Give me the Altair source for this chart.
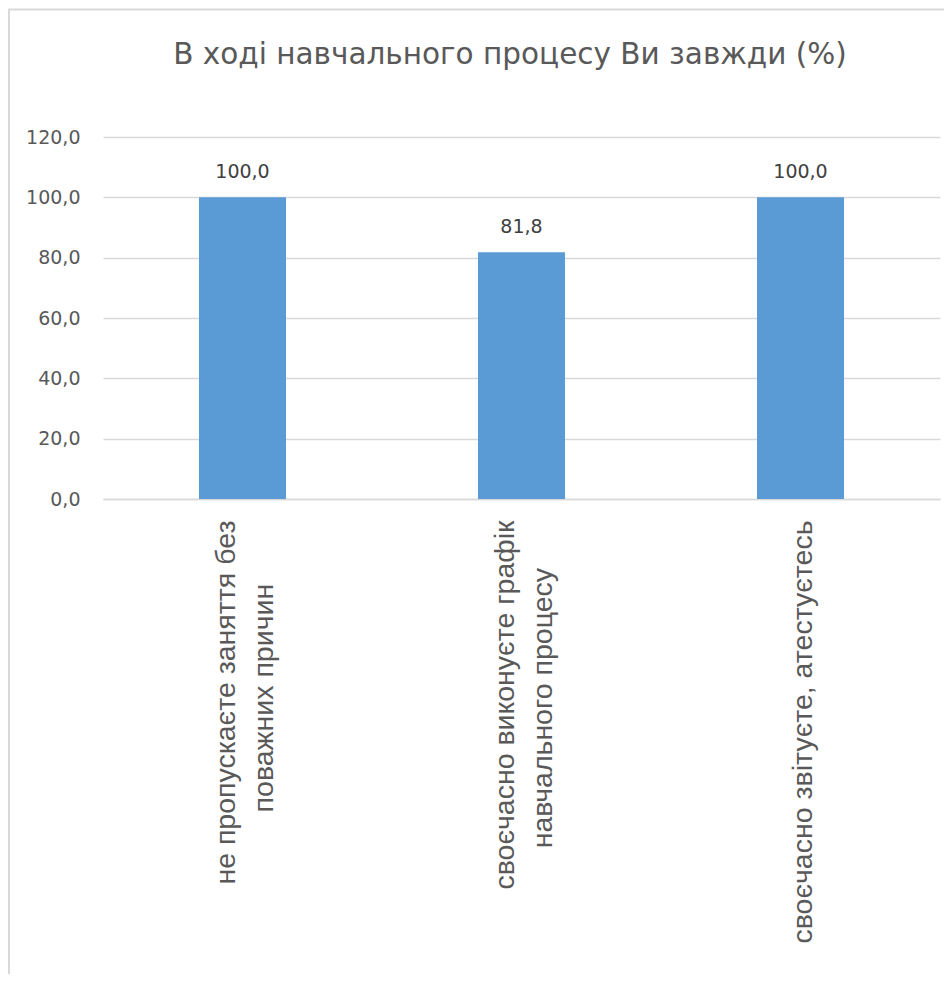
import altair as alt
import pandas as pd

title_text = "В ході навчального процесу Ви завжди (%)"
cat_lines = [
    ["не пропускаєте заняття без", "поважних причин"],
    ["своєчасно виконуєте графік", "навчального процесу"],
    ["своєчасно звітуєте, атестуєтесь"],
]
values = [100.0, 81.8, 100.0]
y_ticks = [0, 20, 40, 60, 80, 100, 120]

# layout helpers for the rotated two-line labels (not data):
# a shorter second line is centred under the first, as in the source
NBSP = "\u00a0"
WJ = "\u2060"  # zero-width word joiner keeps the padding from being trimmed
pad_counts = [8, 6, 0]
keys = [" ".join(l) for l in cat_lines]
label_map = {}
for k, lines, p in zip(keys, cat_lines, pad_counts):
    if len(lines) == 2:
        out = [lines[0], WJ, lines[1] + NBSP * p + WJ]
    else:
        out = [WJ, lines[0]]
    label_map[k] = out

df = pd.DataFrame({"cat": keys, "v": values})

W, H = 837, 362
PAD = {"left": 95, "top": 129, "right": 4, "bottom": 475}

label_expr = "{" + ",".join(
    '"%s": [%s]' % (k, ",".join('"%s"' % s for s in v)) for k, v in label_map.items()
) + "}[datum.label]"

x = alt.X(
    "cat:N",
    sort=None,
    scale=alt.Scale(paddingInner=0.688, paddingOuter=0.344),
    axis=alt.Axis(
        title=None,
        labelAngle=-90,
        labelAlign="right",
        labelBaseline="middle",
        labelFont="Liberation Sans",
        labelFontSize=28.5,
        labelColor="#595959",
        labelLineHeight=19,
        labelOffset=-17,
        labelPadding=21,
        labelLimit=0,
        ticks=False,
        domainColor="#d9d9d9",
        domainWidth=1.5,
        labelExpr=label_expr,
    ),
)
y = alt.Y(
    "v:Q",
    scale=alt.Scale(domain=[0, 120], nice=False),
    axis=alt.Axis(
        title=None,
        values=y_ticks,
        labelExpr="replace(format(datum.value, '.1f'), '.', ',')",
        labelFont="DejaVu Sans",
        labelFontSize=19,
        labelColor="#595959",
        labelPadding=23,
        ticks=False,
        domain=False,
        gridColor="#d9d9d9",
        gridWidth=1.3,
    ),
)

base = alt.Chart(df)
bars = base.mark_bar(color="#5B9BD5").encode(x=x, y=y)
labels = base.mark_text(
    font="DejaVu Sans", fontSize=19, color="#404040", baseline="alphabetic", dy=-19
).transform_calculate(
    lab="replace(format(datum.v, '.1f'), '.', ',')"
).encode(x=x, y=y, text="lab:N")

one = pd.DataFrame({"a": [0]})
frame = alt.Chart(one).mark_rect(
    filled=False, stroke="#d9d9d9", strokeWidth=2
).encode(
    x=alt.value(-94), x2=alt.value(W + 40), y=alt.value(-127.5), y2=alt.value(H + 520)
)

title = alt.Chart(one).mark_text(
    font="DejaVu Sans", fontSize=29.5, color="#595959", align="center", baseline="alphabetic"
).encode(x=alt.value(407), y=alt.value(-73), text=alt.value(title_text))

chart = alt.layer(frame, bars, labels, title).properties(
    width=W,
    height=H,
    autosize=alt.AutoSizeParams(type="none"),
    padding=PAD,
).configure(
    background="white",
    view=alt.ViewConfig(stroke="transparent"),
)

chart.save("out.html", embed_options={"renderer": "svg", "actions": False})
